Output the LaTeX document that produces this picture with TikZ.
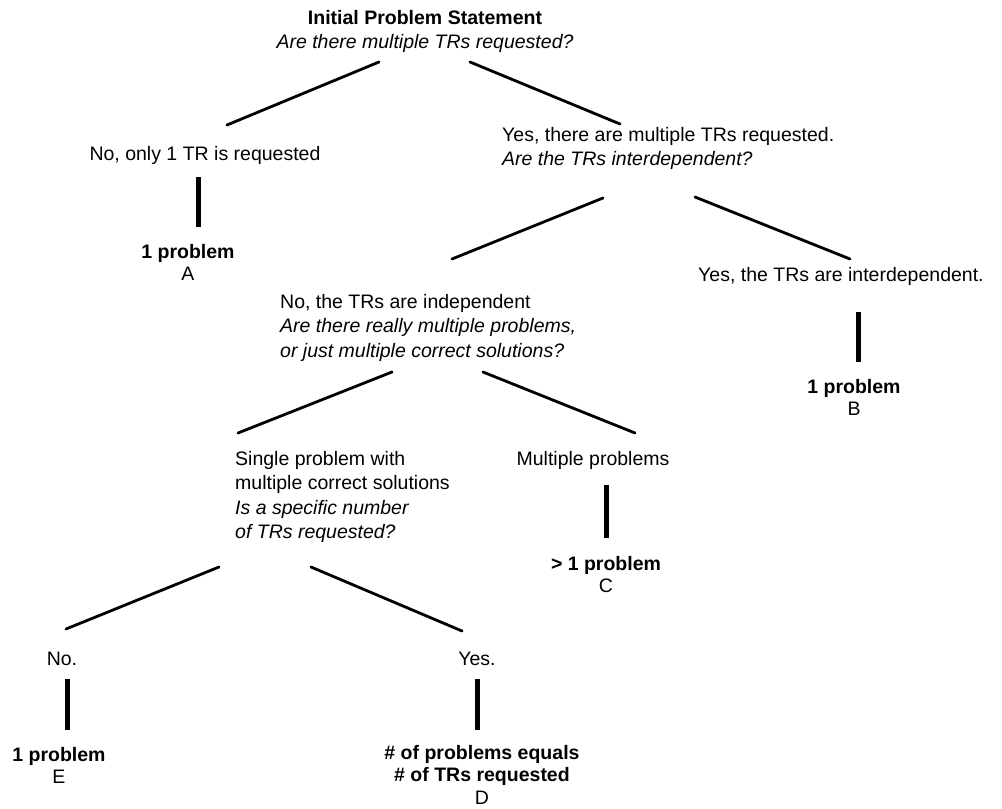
\documentclass[tikz,border=0pt]{standalone}
\usepackage{fontspec}
\setmainfont{Liberation Sans}
\begin{document}
\begin{tikzpicture}[x=1pt,y=-1pt,
  txt/.style={inner sep=0pt, font=\fontsize{19.5}{24.5}\selectfont},
  blk/.style={txt, align=left, anchor=north west},
  ctr/.style={inner sep=0pt, align=center, anchor=north, font=\fontsize{19.5}{22.5}\selectfont},
  conn/.style={line width=2.8pt, line cap=round},
  bar/.style={line width=5pt}]
\useasboundingbox (0,0) rectangle (1002,809);

% text nodes
\node[ctr, font=\fontsize{19.5}{24}\selectfont] (root) at (425,10) {\textbf{Initial Problem Statement}\\\textit{Are there multiple TRs requested?}};
\node[txt, anchor=base] (noone) at (205,160) {No, only 1 TR is requested};
\node[ctr] (resA) at (188,244) {\textbf{1 problem}\\A};
\node[blk] (yes1) at (502,127) {Yes, there are multiple TRs requested.\\\textit{Are the TRs interdependent?}};
\node[txt, anchor=base west] (yesint) at (698,281) {Yes, the TRs are interdependent.};
\node[ctr] (resB) at (854,379) {\textbf{1 problem}\\B};
\node[blk] (noind) at (280,294) {No, the TRs are independent\\\textit{Are there really multiple problems,}\\\textit{or just multiple correct solutions?}};
\node[blk] (single) at (235,451) {Single problem with\\multiple correct solutions\\\textit{Is a specific number}\\\textit{of TRs requested?}};
\node[txt, anchor=base] (multi) at (593,465) {Multiple problems};
\node[ctr] (resC) at (606,556) {\textbf{> 1 problem}\\C};
\node[txt, anchor=base] (no2) at (62,665) {No.};
\node[txt, anchor=base] (yes2) at (477,665) {Yes.};
\node[ctr] (resE) at (59,747) {\textbf{1 problem}\\E};
\node[ctr] (resD) at (482,745) {\textbf{\# of problems equals}\\\textbf{\# of TRs requested}\\D};

% connector end points
\coordinate (l1a) at (379,62);  \coordinate (l1b) at (227,125);
\coordinate (r1a) at (470,62);  \coordinate (r1b) at (620,124);
\coordinate (l2a) at (603,198); \coordinate (l2b) at (452,259);
\coordinate (r2a) at (695,197); \coordinate (r2b) at (850,259);
\coordinate (l3a) at (392,372); \coordinate (l3b) at (238,433);
\coordinate (r3a) at (483,372); \coordinate (r3b) at (635,433);
\coordinate (l4a) at (219,567); \coordinate (l4b) at (66,629);
\coordinate (r4a) at (311,567); \coordinate (r4b) at (462,631);
\coordinate (bAa) at (198,177); \coordinate (bAb) at (198,227);
\coordinate (bBa) at (858,312); \coordinate (bBb) at (858,362);
\coordinate (bCa) at (606,485); \coordinate (bCb) at (606,538);
\coordinate (bEa) at (67,679);  \coordinate (bEb) at (67,730);
\coordinate (bDa) at (477,679); \coordinate (bDb) at (477,730);

% connectors
\draw[conn] (l1a) -- (l1b);
\draw[conn] (r1a) -- (r1b);
\draw[conn] (l2a) -- (l2b);
\draw[conn] (r2a) -- (r2b);
\draw[conn] (l3a) -- (l3b);
\draw[conn] (r3a) -- (r3b);
\draw[conn] (l4a) -- (l4b);
\draw[conn] (r4a) -- (r4b);
\draw[bar] (bAa) -- (bAb);
\draw[bar] (bBa) -- (bBb);
\draw[bar] (bCa) -- (bCb);
\draw[bar] (bEa) -- (bEb);
\draw[bar] (bDa) -- (bDb);
\end{tikzpicture}
\end{document}
